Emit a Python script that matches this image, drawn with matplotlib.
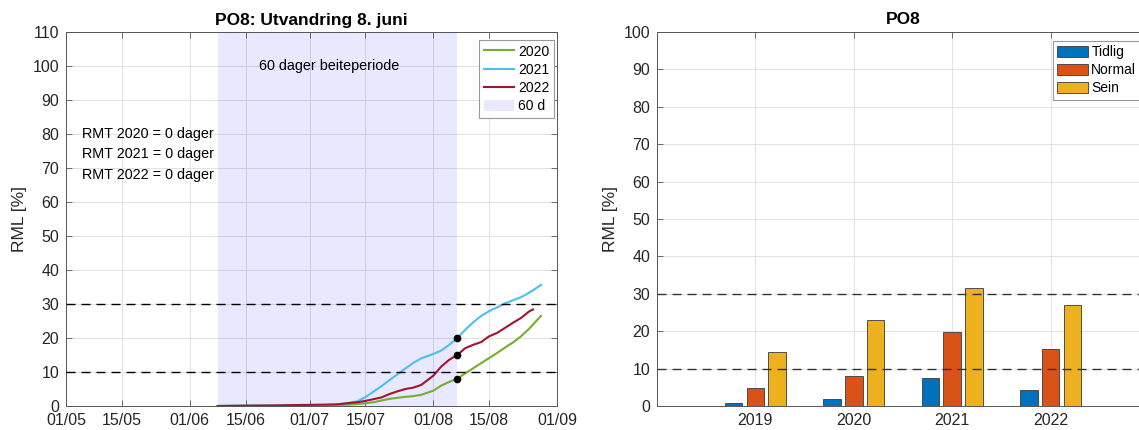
import matplotlib
matplotlib.use('Agg')
import matplotlib.pyplot as plt
import matplotlib.dates as mdates
from matplotlib.patches import Patch
from matplotlib.lines import Line2D
import datetime as dt

plt.rcParams['font.family'] = ['Liberation Sans', 'DejaVu Sans']

# ---------------- data ----------------
dates_2020 = ["06-08", "06-15", "06-22", "06-29", "07-05", "07-08", "07-11", "07-13", "07-15", "07-17",
              "07-19", "07-21", "07-23", "07-25", "07-27", "07-29", "08-01", "08-03", "08-05", "08-07",
              "08-09", "08-11", "08-13", "08-15", "08-17", "08-19", "08-21", "08-23", "08-25", "08-28"]
rml_2020 = [0.0, 0.05, 0.1, 0.15, 0.2, 0.3, 0.4, 0.6, 0.8, 1.1,
            1.6, 2.1, 2.4, 2.7, 2.9, 3.3, 4.5, 6.0, 7.1, 8.0,
            9.6, 11.1, 12.6, 14.1, 15.6, 17.2, 18.7, 20.5, 22.7, 26.5]

dates_2021 = list(dates_2020)
rml_2021 = [0.0, 0.05, 0.1, 0.2, 0.3, 0.4, 0.9, 1.4, 2.6, 4.2,
            5.8, 7.6, 9.3, 11.0, 12.7, 14.0, 15.3, 16.3, 18.0, 20.0,
            22.4, 24.6, 26.5, 27.9, 29.0, 30.2, 31.1, 32.0, 33.3, 35.6]

dates_2022 = ["06-08", "06-15", "06-22", "06-29", "07-05", "07-08", "07-11", "07-13", "07-15", "07-17",
              "07-19", "07-21", "07-23", "07-25", "07-27", "07-29", "08-01", "08-03", "08-05", "08-07",
              "08-09", "08-11", "08-13", "08-15", "08-17", "08-19", "08-21", "08-23", "08-25", "08-26"]
rml_2022 = [0.0, 0.1, 0.15, 0.3, 0.4, 0.5, 0.9, 1.1, 1.5, 2.0,
            2.5, 3.5, 4.3, 5.0, 5.4, 6.2, 8.9, 11.6, 13.6, 15.0,
            17.0, 18.0, 18.8, 20.5, 21.5, 23.0, 24.5, 25.9, 27.8, 28.4]

series_labels = ["2020", "2021", "2022"]
series_colors = ["#77AC30", "#4DBEEE", "#A2142F"]

marker_date = "08-07"
marker_values = [8.0, 20.0, 15.0]

period_start = "06-08"
period_end = "08-07"

rmt_texts = ["RMT 2020 = 0 dager", "RMT 2021 = 0 dager", "RMT 2022 = 0 dager"]

xtick_dates = ["05-01", "05-15", "06-01", "06-15", "07-01", "07-15", "08-01", "08-15", "09-01"]

bar_years = [2019, 2020, 2021, 2022]
tidlig = [0.8, 2.0, 7.6, 4.3]
normal = [4.9, 8.1, 19.9, 15.3]
sein = [14.4, 23.1, 31.6, 27.1]
bar_labels = ["Tidlig", "Normal", "Sein"]
bar_colors = ["#0072BD", "#D95319", "#EDB120"]

thresholds = [10, 30]


def d(s):
    m, dd = s.split("-")
    return dt.date(2021, int(m), int(dd))


# ---------------- figure ----------------
W, H = 1139, 430
fig = plt.figure(figsize=(W / 100, H / 100), dpi=100)

ax1 = fig.add_axes([66 / W, 24 / H, (557 - 66) / W, (406 - 32) / H])
ax2 = fig.add_axes([657 / W, 24 / H, (1149 - 657) / W, (406 - 32) / H])

tick_color = '#262626'
spine_color = '#555555'
grid_color = '#E2E2E2'


def style_axes(ax):
    ax.set_axisbelow(True)
    ax.grid(True, color=grid_color, lw=0.7)
    for sp in ax.spines.values():
        sp.set_color(spine_color)
        sp.set_linewidth(0.7)
    ax.tick_params(direction='in', top=True, right=True, length=4, width=0.6,
                   color=spine_color, labelcolor=tick_color, labelsize=11.5, pad=5)


# ---- left panel ----
style_axes(ax1)
ax1.axvspan(d(period_start), d(period_end), color=(0, 0, 1), alpha=0.09, lw=0, zorder=1)

all_dates = [dates_2020, dates_2021, dates_2022]
all_vals = [rml_2020, rml_2021, rml_2022]
for ds, vs, lab, col in zip(all_dates, all_vals, series_labels, series_colors):
    ax1.plot([d(s) for s in ds], vs, color=col, lw=1.5, zorder=3)

ax1.plot([d(marker_date)] * len(marker_values), marker_values, 'o', color='k',
         markersize=4.5, zorder=5, lw=0)

for t in thresholds:
    ax1.axhline(t, color='k', lw=1.0, dashes=(6.5, 4.3), zorder=4)

ax1.set_xlim(d("05-01"), d("09-01"))
ax1.set_ylim(0, 110)
ax1.set_yticks(range(0, 111, 10))
ax1.set_xticks([d(s) for s in xtick_dates])
ax1.xaxis.set_major_formatter(mdates.DateFormatter('%d/%m'))
ax1.set_ylabel("RML [%]", fontsize=12.5, color=tick_color, labelpad=4)
ax1.set_title("PO8: Utvandring 8. juni", fontsize=12.5, fontweight='bold', pad=5)

ax1.text(d("07-06"), 100, "60 dager beiteperiode", fontsize=10.4, ha='center', va='center',
         color='k', zorder=6)
for txt, yv in zip(rmt_texts, [80, 74, 68]):
    ax1.text(d("05-05"), yv, txt, fontsize=10.4, ha='left', va='center', color='k', zorder=6)

handles1 = [Line2D([0], [0], color=c, lw=1.5) for c in series_colors]
handles1.append(Patch(facecolor=(0, 0, 1, 0.09), edgecolor='none'))
leg1 = ax1.legend(handles1, series_labels + ["60 d"], loc='upper right',
                  bbox_to_anchor=(0.994, 0.979), borderaxespad=0, fontsize=10,
                  handlelength=2.2, handleheight=0.9, handletextpad=0.25,
                  labelspacing=0.3, borderpad=0.35, fancybox=False, framealpha=1,
                  edgecolor='#999999')
leg1.get_frame().set_linewidth(0.8)

# ---- right panel ----
style_axes(ax2)
bw = 0.178
off = 0.222
for i, (vals, lab, col) in enumerate(zip([tidlig, normal, sein], bar_labels, bar_colors)):
    xs = [y + (i - 1) * off for y in bar_years]
    ax2.bar(xs, vals, width=bw, color=col, edgecolor='#3a3a3a', lw=0.6, label=lab, zorder=2)

for t in thresholds:
    ax2.axhline(t, color='#333333', lw=1.0, dashes=(6.5, 4.3), zorder=4)

ax2.set_xlim(2018, 2023)
ax2.set_ylim(0, 100)
ax2.set_yticks(range(0, 101, 10))
ax2.set_xticks(bar_years)
ax2.set_xticklabels([str(y) for y in bar_years])
ax2.set_ylabel("RML [%]", fontsize=12.5, color=tick_color, labelpad=4)
fig.text((657 + 1149) / 2 / W - 0.0, 1 - 20 / H, "PO8", fontsize=12.5, fontweight='bold',
         ha='center', va='center')

leg2 = ax2.legend(loc='upper left', bbox_to_anchor=(0.805, 0.976), borderaxespad=0,
                  fontsize=10, handlelength=2.2, handleheight=0.8, handletextpad=0.25,
                  labelspacing=0.3, borderpad=0.3, fancybox=False, framealpha=1,
                  edgecolor='#999999')
leg2.get_frame().set_linewidth(0.8)

fig.savefig("out.png", dpi=100)
